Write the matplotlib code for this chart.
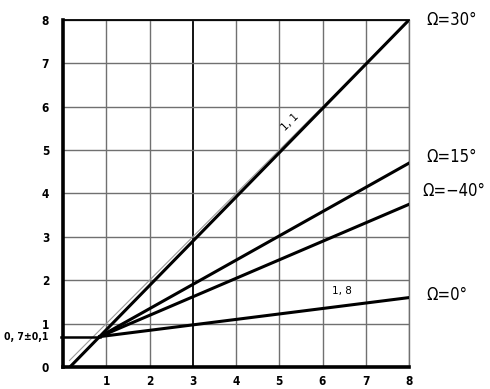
import matplotlib.pyplot as plt

# data
x0, y0 = 0.85, 0.7          # common start point of the curves
x_end = 8
end_vals = {'30': 8.0, '15': 4.7, '-40': 3.75, '0': 1.6}
start_30 = 0.16             # the 30 deg line reaches y=0 here
ref_x = [0.15, 8]           # thin reference line y = x
ticks = [0, 1, 2, 3, 4, 5, 6, 7, 8]
xtick_labels = ['', '1', '2', '3', '4', '5', '6', '7', '8']
right_labels = {'30': ('Ω=30°', 8.0, 8.4), '15': ('Ω=15°', 4.85, 8.4),
                '-40': ('Ω=−40°', 4.05, 8.3), '0': ('Ω=0°', 1.65, 8.4)}

plt.rcParams['font.family'] = ['DejaVu Sans']
fig = plt.figure(figsize=(4.9, 3.89), dpi=100)
ax = fig.add_axes([0.1286, 0.0566, 0.7061, 0.892])
ax.set_xlim(0, 8)
ax.set_ylim(0, 8)
ax.set_xticks(ticks)
ax.set_xticklabels(xtick_labels)
ax.set_yticks(ticks)
ax.tick_params(length=0, labelsize=8.5, pad=6)
ax.tick_params(axis='y', pad=10)
for lab in ax.get_xticklabels() + ax.get_yticklabels():
    lab.set_fontweight('bold')
    lab.set_fontstretch('condensed')

for v in ticks[1:]:
    c = 'k' if v == 3 else '#707070'
    ax.axvline(v, color=c, lw=1.0 if v != 3 else 1.3, zorder=1)
    ax.axhline(v, color='#707070', lw=1.0, zorder=1)

ax.spines['left'].set_linewidth(2.6)
ax.spines['bottom'].set_linewidth(2.6)
ax.spines['top'].set_linewidth(1.3)
ax.spines['right'].set_color('#707070')
ax.spines['right'].set_linewidth(1.0)

# reference y = x thin line
ax.plot(ref_x, ref_x, color='#999999', lw=0.8, zorder=2)
# Ω = 30° line
ax.plot([start_30, x_end], [0, end_vals['30']], color='k', lw=2.2, zorder=3)
for k in ['15', '-40', '0']:
    ax.plot([x0, x_end], [y0, end_vals[k]], color='k', lw=2.2, zorder=3)
# horizontal line at 0.7
ax.plot([-0.05, x0], [y0, y0], color='k', lw=1.8, zorder=3, clip_on=False)

ax.text(-0.35, y0, '0, 7±0,1', ha='right', va='center', fontsize=7.5,
        fontweight='bold', fontstretch='condensed')
ax.text(5.25, 5.65, '1, 1', rotation=45, ha='center', va='center', fontsize=7.5)
ax.text(6.45, 1.75, '1, 8', ha='center', va='center', fontsize=7.5)

for k, (txt, yy, xx) in right_labels.items():
    ax.text(xx, yy, txt, ha='left', va='center', fontsize=12,
            fontstretch='condensed', clip_on=False)

plt.savefig('out.png', dpi=100)
